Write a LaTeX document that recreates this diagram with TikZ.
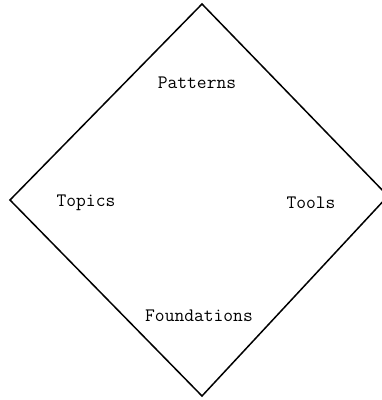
\documentclass[tikz,border=0pt]{standalone}
\begin{document}
\begin{tikzpicture}[x=1pt,y=-1pt,
  lbl/.style={font=\ttfamily\fontsize{19}{21}\selectfont, inner sep=0pt, anchor=center},
  edge/.style={draw=black, line width=1.5pt, line join=miter}]
\useasboundingbox (0,0) rectangle (382,400);
\coordinate (top) at (202,4);
\coordinate (left) at (10,200);
\coordinate (bottom) at (202,396);
\coordinate (right) at (388,196);
\draw[edge] (top) -- (right) -- (bottom) -- (left) -- cycle;
\node[lbl] (patterns) at (197,83) {Patterns};
\node[lbl] (topics) at (86,203) {Topics};
\node[lbl] (tools) at (311,203) {Tools};
\node[lbl] (foundations) at (199,316) {Foundations};
\end{tikzpicture}
\end{document}
